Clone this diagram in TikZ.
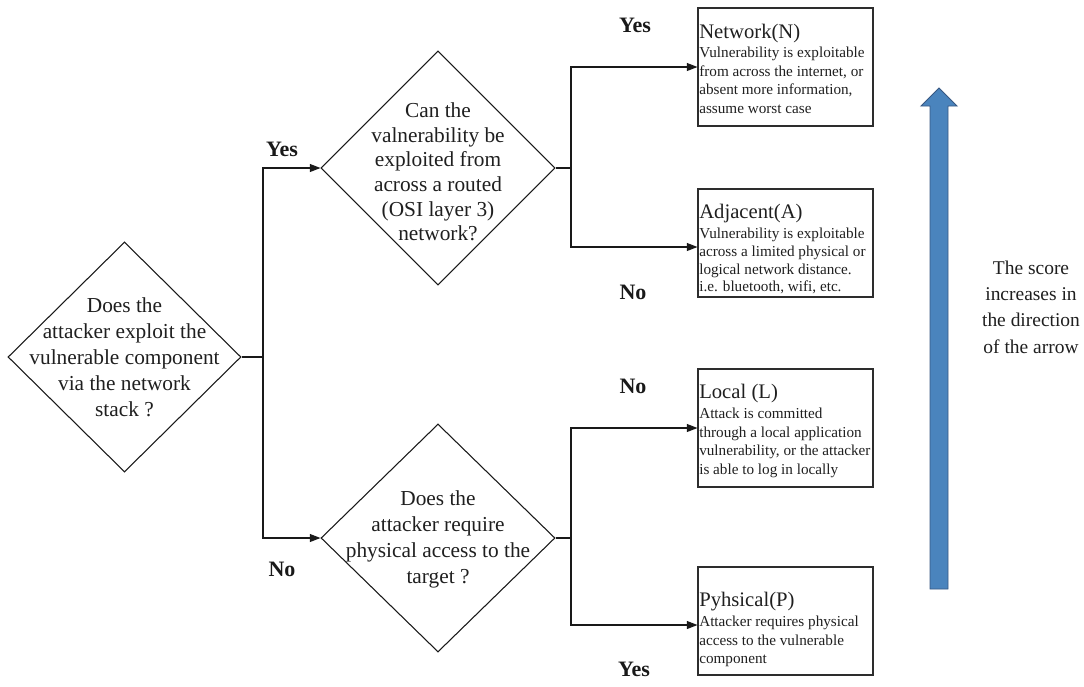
\documentclass[tikz,border=0pt]{standalone}
\usepackage{fontspec}
\setmainfont{Liberation Serif}
\usetikzlibrary{shapes.geometric,arrows.meta}

\definecolor{linegray}{RGB}{25,25,25}
\definecolor{boxgray}{RGB}{45,45,45}
\definecolor{scoreblue}{RGB}{74,132,189}
\definecolor{scoreedge}{RGB}{56,88,130}

\newcommand{\fsz}[2]{\fontsize{#1pt}{#2pt}\selectfont}

\tikzset{
  decision/.style={diamond, draw=linegray, line width=0.8pt, inner sep=0pt},
  qtext/.style={align=center, inner sep=0pt, text=black!88},
  outcome/.style={rectangle, draw=boxgray, line width=0.8pt, inner sep=0pt,
                  minimum width=131.25pt},
  ttl/.style={inner sep=0pt, font=\fsz{15.5}{18}, text=black!88},
  bdy/.style={inner sep=0pt, align=left, font=\fsz{11.4}{13.9}, text=black!88},
  yn/.style={inner sep=0pt, font=\fsz{16.5}{20}\bfseries, text=black!90},
  conn/.style={draw=linegray, line width=0.8pt},
  arr/.style={-{Triangle[length=8pt,width=6pt]}},
  scorearrow/.style={fill=scoreblue, draw=scoreedge, line width=0.7pt, line join=miter},
}

\begin{document}
\begin{tikzpicture}[x=0.75pt, y=-0.75pt]
  \useasboundingbox (0,0) rectangle (1084,686);

  % decision diamonds
  \node[decision, minimum width=174.75pt, minimum height=172.5pt] (d1) at (124.5,357) {};
  \node[decision, minimum width=175.5pt, minimum height=175.5pt] (d2) at (438,168) {};
  \node[decision, minimum width=175.5pt, minimum height=171pt] (d3) at (438,538) {};

  \node[qtext, font=\fsz{16}{19.5}] (q1) at (124.5,357)
    {Does the\\attacker exploit the\\vulnerable component\\via the network\\stack ?};
  \node[qtext, font=\fsz{16}{18.5}] (q2) at (438,172)
    {Can the\\valnerability be\\exploited from\\across a routed\\(OSI layer 3)\\network?};
  \node[qtext, font=\fsz{16}{19.5}] (q3) at (438,539)
    {Does the\\attacker require\\physical access to the\\target ?};

  % outcome boxes
  \node[outcome, minimum height=88.5pt] (N) at (785.5,67) {};
  \node[outcome, minimum height=81pt]   (A) at (785.5,243) {};
  \node[outcome, minimum height=88.5pt] (L) at (785.5,428) {};
  \node[outcome, minimum height=81pt]   (P) at (785.5,621) {};

  \node[ttl, anchor=base west] (Nt) at (699,38) {Network(N)};
  \node[bdy, anchor=north west] (Nb) at (699,47)
    {Vulnerability is exploitable\\from across the internet, or\\absent more information,\\assume worst case};

  \node[ttl, anchor=base west] (At) at (699,218) {Adjacent(A)};
  \node[bdy, anchor=north west, font=\fsz{11.4}{13.2}] (Ab) at (699,228)
    {Vulnerability is exploitable\\across a limited physical or\\logical network distance.\\i.e. bluetooth, wifi, etc.};

  \node[ttl, anchor=base west] (Lt) at (699,398) {Local (L)};
  \node[bdy, anchor=north west] (Lb) at (699,408)
    {Attack is committed\\through a local application\\vulnerability, or the attacker\\is able to log in locally};

  \node[ttl, anchor=base west] (Pt) at (699,606) {Pyhsical(P)};
  \node[bdy, anchor=north west] (Pb) at (699,616)
    {Attacker requires physical\\access to the vulnerable\\component};

  % connectors
  \coordinate (j1) at (263,357);
  \coordinate (j2) at (571,168);
  \coordinate (j3) at (571,538);

  \draw[conn] (d1.east) -- (j1);
  \draw[conn, arr] (j1) |- (d2.west);
  \draw[conn, arr] (j1) |- (d3.west);

  \draw[conn] (d2.east) -- (j2);
  \draw[conn, arr] (j2) |- (N.west);
  \draw[conn, arr] (j2) |- ([yshift=-3pt]A.west);

  \draw[conn] (d3.east) -- (j3);
  \draw[conn, arr] (j3) |- (L.west);
  \draw[conn, arr] (j3) |- ([yshift=-3pt]P.west);

  % branch labels
  \node[yn] (y1) at (282,149) {Yes};
  \node[yn] (n1) at (282,569) {No};
  \node[yn] (y2) at (635,25)  {Yes};
  \node[yn] (n2) at (633,292) {No};
  \node[yn] (n3) at (633,386) {No};
  \node[yn] (y3) at (634,669) {Yes};

  % score direction arrow
  \draw[scorearrow] (930,589) -- (930,106) -- (921,106) -- (939,88)
    -- (957,106) -- (948,106) -- (948,589) -- cycle;
  \node[qtext, font=\fsz{14.6}{19.8}] (score) at (1031,307)
    {The score\\increases in\\the direction\\of the arrow};
\end{tikzpicture}
\end{document}
